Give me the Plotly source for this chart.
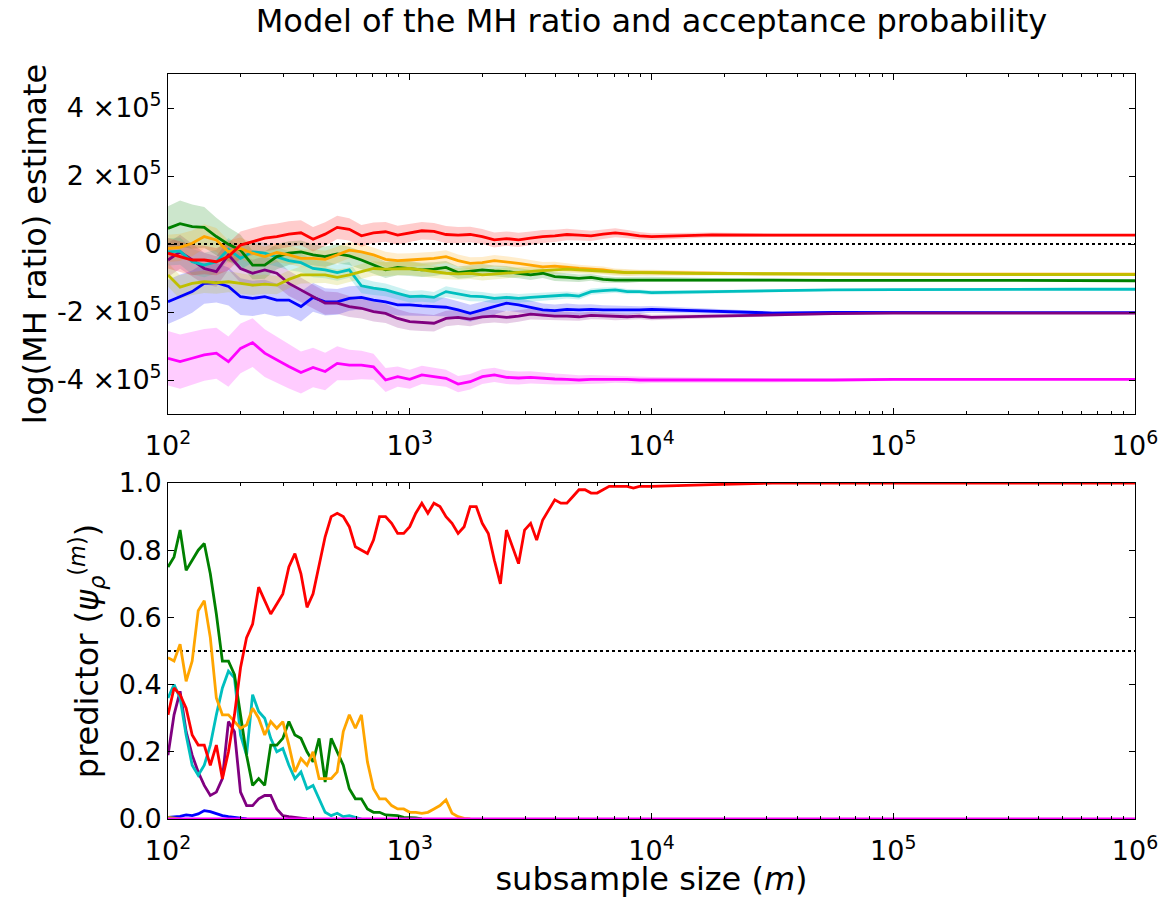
import plotly.graph_objects as go

# ---------------- data ----------------
# log10 of subsample size, top panel sample positions
LOG_M_TOP = [2.00, 2.05, 2.10, 2.15, 2.20, 2.25, 2.30, 2.35, 2.40, 2.45,
             2.50, 2.55, 2.60, 2.65, 2.70, 2.75, 2.80, 2.85, 2.90, 2.95,
             3.00, 3.05, 3.10, 3.15, 3.20, 3.25, 3.30, 3.35, 3.40, 3.45,
             3.50, 3.55, 3.60, 3.65, 3.70, 3.75, 3.80, 3.85, 3.90, 3.95,
             4.00, 4.25, 4.50, 4.75, 5.00, 5.25, 5.50, 5.75, 6.00]

# log(MH ratio) estimates, in units of 1e3
RED_T = [-27, -37, -47, -47, -52, -37, -3, 7, 17, 22, 29, 33, 14, 29, 49, 43, 24, 33, 36, 26, 33,
         39, 37, 28, 26, 28, 22, 12, 16, 12, 17, 22, 24, 28, 26, 24, 29, 33, 29, 24, 22,
         27, 26, 26, 26, 26, 26, 26, 26]
GREEN_T = [46, 60, 51, 49, 22, -1, -18, -62, -62, -37, -27, -23, -32, -37, -29, -35, -47, -62, -76, -69, -72,
           -76, -74, -69, -84, -81, -76, -79, -81, -86, -91, -86, -96, -98, -101, -98, -104, -106, -106, -104, -104,
           -105, -106, -107, -108, -107, -107, -108, -108]
ORANGE_T = [-13, -10, 2, 22, 12, -23, -13, -27, -37, -25, -32, -42, -42, -45, -32, -18, -23, -32, -45, -49, -47,
            -45, -42, -37, -49, -57, -55, -49, -52, -57, -62, -67, -65, -69, -72, -74, -76, -81, -84, -84, -84,
            -86, -88, -89, -89, -89, -89, -89, -89]
YELLOW_T = [-91, -127, -116, -111, -114, -111, -116, -121, -118, -121, -104, -91, -91, -91, -98, -91, -81, -72, -74, -72, -72,
            -76, -81, -86, -88, -86, -91, -88, -86, -84, -81, -78, -76, -74, -76, -78, -81, -84, -84, -84, -84,
            -87, -88, -89, -89, -90, -90, -90, -90]
CYAN_T = [-23, -21, -52, -62, -52, -16, -42, -23, -27, -37, -49, -55, -72, -76, -84, -76, -123, -130, -135, -145, -155,
          -153, -157, -140, -147, -153, -155, -160, -157, -160, -157, -155, -153, -150, -153, -140, -137, -135, -140, -140, -143,
          -140, -138, -135, -134, -133, -133, -133, -133]
BLUE_T = [-170, -155, -140, -116, -114, -125, -155, -160, -155, -165, -165, -184, -157, -170, -170, -160, -157, -165, -170, -179, -179,
          -182, -184, -186, -194, -204, -194, -184, -174, -179, -186, -194, -196, -192, -194, -192, -194, -194, -196, -194, -192,
          -198, -203, -201, -202, -202, -202, -202, -202]
PURPLE_T = [-47, -23, -47, -72, -81, -32, -72, -86, -76, -86, -116, -135, -155, -174, -174, -184, -189, -199, -204, -219, -228,
            -231, -233, -219, -216, -221, -214, -212, -216, -212, -206, -209, -212, -212, -214, -210, -212, -214, -214, -212, -216,
            -212, -208, -205, -203, -203, -203, -203, -203]
MAGENTA_T = [-336, -346, -336, -326, -321, -346, -307, -290, -321, -341, -360, -378, -363, -375, -351, -356, -356, -361, -400, -390, -398,
             -385, -390, -395, -412, -405, -390, -385, -392, -394, -392, -395, -397, -398, -400, -398, -398, -397, -398, -400, -400,
             -400, -402, -400, -398, -398, -398, -398, -398]

# half-widths of the shaded uncertainty bands, units of 1e3
RED_B = [45, 45, 45, 42, 40, 40, 40, 40, 39, 38, 38, 37, 36, 35, 34, 33, 32, 30, 29, 28, 27,
         26, 25, 25, 24, 23, 22, 22, 21, 21, 20, 19, 18, 17, 16, 15, 14, 13, 12, 11, 10,
         7, 5, 4, 3, 2, 2, 1, 1]
GREEN_B = [65, 68, 65, 60, 55, 50, 45, 42, 40, 37, 35, 33, 31, 30, 28, 27, 26, 25, 24, 23, 22,
           21, 20, 19, 18, 18, 17, 16, 16, 15, 15, 14, 13, 12, 11, 10, 10, 9, 9, 8, 8,
           5, 4, 3, 2, 2, 1, 1, 1]
ORANGE_B = [40, 40, 38, 36, 35, 33, 32, 30, 29, 28, 27, 26, 26, 25, 24, 24, 23, 22, 22, 21, 20,
            20, 19, 19, 18, 18, 17, 17, 16, 16, 15, 14, 13, 12, 11, 10, 10, 9, 9, 8, 8,
            5, 4, 3, 2, 2, 1, 1, 1]
YELLOW_B = [35, 35, 34, 33, 32, 31, 30, 29, 28, 27, 26, 25, 25, 24, 23, 22, 22, 21, 20, 20, 19,
            19, 18, 18, 17, 17, 16, 16, 15, 15, 14, 13, 12, 11, 10, 10, 9, 9, 8, 8, 7,
            5, 4, 3, 2, 2, 1, 1, 1]
CYAN_B = [40, 40, 38, 36, 35, 34, 33, 32, 30, 29, 28, 27, 26, 25, 24, 23, 22, 20, 19, 18, 17,
          17, 16, 16, 15, 15, 14, 14, 13, 13, 12, 12, 11, 10, 10, 9, 9, 8, 8, 7, 7,
          5, 4, 3, 2, 2, 1, 1, 1]
BLUE_B = [65, 65, 62, 60, 58, 56, 54, 52, 50, 48, 46, 44, 42, 40, 38, 36, 35, 33, 32, 31, 30,
          29, 28, 27, 26, 25, 24, 23, 22, 21, 20, 19, 18, 17, 16, 15, 14, 13, 12, 11, 10,
          7, 5, 4, 3, 2, 2, 1, 1]
PURPLE_B = [50, 50, 48, 46, 45, 44, 42, 40, 39, 38, 37, 36, 35, 34, 32, 31, 30, 29, 28, 27, 26,
            25, 24, 23, 22, 21, 20, 19, 18, 17, 16, 15, 14, 13, 12, 11, 10, 10, 9, 9, 8,
            6, 4, 3, 2, 2, 1, 1, 1]
MAGENTA_B = [80, 80, 78, 76, 75, 74, 73, 72, 70, 68, 65, 62, 58, 55, 50, 45, 42, 38, 35, 30, 28,
             27, 26, 25, 24, 23, 22, 21, 20, 19, 18, 17, 16, 15, 14, 13, 12, 11, 10, 10, 9,
             7, 5, 4, 3, 2, 2, 1, 1]

# bottom panel sample positions (log10 m)
LOG_M_BOT = [2.000, 2.025, 2.050, 2.075, 2.100, 2.125, 2.150, 2.175, 2.200, 2.225,
             2.250, 2.275, 2.300, 2.325, 2.350, 2.375, 2.400, 2.425, 2.450, 2.475,
             2.500, 2.525, 2.550, 2.575, 2.600, 2.625, 2.650, 2.675, 2.700, 2.725,
             2.750, 2.775, 2.800, 2.825, 2.850, 2.875, 2.900, 2.925, 2.950, 2.975,
             3.000, 3.025, 3.050, 3.075, 3.100, 3.125, 3.150, 3.175, 3.200, 3.225,
             3.250, 3.275, 3.300, 3.325, 3.350, 3.375, 3.400, 3.425, 3.450, 3.475,
             3.500, 3.525, 3.550, 3.575, 3.600, 3.625, 3.650, 3.675, 3.700, 3.725,
             3.750, 3.775, 3.800, 3.825, 3.850, 3.875, 3.900, 3.925, 3.950, 3.975,
             4.000, 4.250, 4.500, 4.750, 5.000, 5.250, 5.500, 5.750, 6.000]

# predictor values (each list starts at the first position, ends once at zero)
RED_P = [0.31, 0.39, 0.37, 0.33, 0.25, 0.22, 0.22, 0.16, 0.22, 0.12, 0.20, 0.31, 0.45, 0.54, 0.58, 0.69, 0.65,
         0.61, 0.64, 0.67, 0.75, 0.79, 0.73, 0.63, 0.67, 0.76, 0.84, 0.90, 0.91, 0.90, 0.87, 0.81, 0.80, 0.79,
         0.83, 0.90, 0.90, 0.88, 0.85, 0.85, 0.87,
         0.91, 0.94, 0.91, 0.94, 0.93, 0.90, 0.88, 0.85, 0.87, 0.93, 0.93, 0.88, 0.85, 0.77, 0.70, 0.86, 0.81,
         0.76, 0.86, 0.88, 0.83, 0.89, 0.92, 0.95, 0.94, 0.94, 0.96, 0.98, 0.98, 0.97, 0.97, 0.98, 0.99, 0.99,
         0.99, 0.99, 0.985, 0.99, 0.99, 0.99,
         0.995, 1.0, 1.0, 1.0, 1.0, 1.0, 1.0, 1.0]
GREEN_P = [0.75, 0.78, 0.86, 0.74, 0.77, 0.80, 0.82, 0.73, 0.61, 0.47, 0.47, 0.43, 0.31, 0.19, 0.10, 0.12, 0.10,
           0.22, 0.22, 0.24, 0.29, 0.25, 0.24, 0.20, 0.17, 0.24, 0.11, 0.24, 0.20, 0.16, 0.09, 0.06, 0.06, 0.03,
           0.02, 0.02, 0.012, 0.01, 0.01, 0.005, 0.005, 0.003, 0.0]
ORANGE_P = [0.48, 0.47, 0.52, 0.41, 0.47, 0.62, 0.65, 0.54, 0.36, 0.31, 0.31, 0.29, 0.27, 0.28, 0.33, 0.30, 0.25,
            0.29, 0.27, 0.29, 0.22, 0.14, 0.18, 0.16, 0.20, 0.12, 0.12, 0.12, 0.14, 0.26, 0.31, 0.27, 0.31, 0.17,
            0.09, 0.06, 0.06, 0.04, 0.03, 0.03, 0.02,
            0.02, 0.017, 0.02, 0.03, 0.04, 0.057, 0.017, 0.007, 0.002, 0.0]
CYAN_P = [0.36, 0.40, 0.36, 0.25, 0.16, 0.13, 0.16, 0.22, 0.31, 0.39, 0.44, 0.42, 0.25, 0.19, 0.37, 0.32, 0.30,
          0.24, 0.20, 0.21, 0.16, 0.12, 0.14, 0.09, 0.10, 0.06, 0.02, 0.01, 0.017, 0.007, 0.01, 0.005, 0.0]
PURPLE_P = [0.19, 0.31, 0.38, 0.26, 0.19, 0.14, 0.10, 0.07, 0.08, 0.12, 0.29, 0.26, 0.08, 0.04, 0.04, 0.06, 0.07,
            0.07, 0.03, 0.01, 0.007, 0.005, 0.002, 0.0]
BLUE_P = [0.005, 0.006, 0.008, 0.012, 0.010, 0.015, 0.025, 0.022, 0.015, 0.010, 0.007, 0.004, 0.002, 0.0]
YELLOW_P = [0.005, 0.002, 0.0]
MAGENTA_P = [0.0] * len(LOG_M_BOT)

COLORS = {
    "red": (255, 0, 0), "green": (0, 128, 0), "orange": (255, 165, 0),
    "yellow": (191, 191, 0), "cyan": (0, 191, 191), "blue": (0, 0, 255),
    "purple": (128, 0, 128), "magenta": (255, 0, 255),
}

TOP_SERIES = [("blue", BLUE_T, BLUE_B), ("purple", PURPLE_T, PURPLE_B),
              ("cyan", CYAN_T, CYAN_B), ("green", GREEN_T, GREEN_B),
              ("orange", ORANGE_T, ORANGE_B), ("yellow", YELLOW_T, YELLOW_B),
              ("red", RED_T, RED_B), ("magenta", MAGENTA_T, MAGENTA_B)]
BOT_SERIES = [("blue", BLUE_P), ("purple", PURPLE_P), ("cyan", CYAN_P),
              ("green", GREEN_P), ("orange", ORANGE_P), ("yellow", YELLOW_P),
              ("red", RED_P), ("magenta", MAGENTA_P)]

X_TICKS = [1e2, 1e3, 1e4, 1e5, 1e6]
X_TICKTEXT = ["10<sup>2</sup>", "10<sup>3</sup>", "10<sup>4</sup>", "10<sup>5</sup>", "10<sup>6</sup>"]
Y1_TICKS = [-4e5, -2e5, 0, 2e5, 4e5]
Y1_TICKTEXT = ["-4 ×10<sup>5</sup>", "-2 ×10<sup>5</sup>", "0", "2 ×10<sup>5</sup>", "4 ×10<sup>5</sup>"]
Y2_TICKS = [0.0, 0.2, 0.4, 0.6, 0.8, 1.0]
Y2_TICKTEXT = ["0.0", "0.2", "0.4", "0.6", "0.8", "1.0"]

# ---------------- figure ----------------
def rgba(c, a):
    return "rgba(%d,%d,%d,%s)" % (c[0], c[1], c[2], a)

x_top = [10 ** v for v in LOG_M_TOP]
x_bot = [10 ** v for v in LOG_M_BOT]

fig = go.Figure()

# shaded bands
for name, vals, band in TOP_SERIES:
    up = [(v + b) * 1e3 for v, b in zip(vals, band)]
    lo = [(v - b) * 1e3 for v, b in zip(vals, band)]
    fig.add_trace(go.Scatter(x=x_top + x_top[::-1], y=up + lo[::-1], fill="toself",
                             fillcolor=rgba(COLORS[name], 0.2), line=dict(width=0),
                             mode="lines", hoverinfo="skip", showlegend=False,
                             xaxis="x", yaxis="y"))

# reference lines
fig.add_trace(go.Scatter(x=[1e2, 1e6], y=[0, 0], mode="lines",
                         line=dict(color="black", width=2, dash="dot"),
                         showlegend=False, xaxis="x", yaxis="y"))
fig.add_trace(go.Scatter(x=[1e2, 1e6], y=[0.5, 0.5], mode="lines",
                         line=dict(color="black", width=2, dash="dot"),
                         showlegend=False, xaxis="x2", yaxis="y2"))

for name, vals, band in TOP_SERIES:
    fig.add_trace(go.Scatter(x=x_top, y=[v * 1e3 for v in vals], mode="lines",
                             line=dict(color=rgba(COLORS[name], 1), width=2.8),
                             showlegend=False, xaxis="x", yaxis="y"))

for name, vals in BOT_SERIES:
    fig.add_trace(go.Scatter(x=x_bot[:len(vals)], y=vals, mode="lines",
                             line=dict(color=rgba(COLORS[name], 1), width=2.8),
                             showlegend=False, xaxis="x2", yaxis="y2"))

minor_vals = [k * 10 ** e for e in range(2, 6) for k in range(2, 10)]

FONT = "DejaVu Sans, Liberation Sans, sans-serif"
TICKFONT = dict(family=FONT, size=27, color="black")
TITLEFONT = dict(family=FONT, size=32, color="black")

common_x = dict(type="log", range=[2, 6], tickmode="array", tickvals=X_TICKS,
                ticktext=X_TICKTEXT, ticks="inside", ticklen=6, tickwidth=1,
                tickcolor="black", mirror="allticks", showline=True,
                linecolor="black", linewidth=1, showgrid=False, zeroline=False,
                tickfont=TICKFONT, ticklabeloverflow="allow", ticklabelstandoff=8,
                automargin=False,
                minor=dict(tickvals=minor_vals, ticks="inside", ticklen=3,
                           tickwidth=1, tickcolor="black", showgrid=False))
common_y = dict(ticks="inside", ticklen=6, tickwidth=1, tickcolor="black",
                mirror="allticks", showline=True, linecolor="black", linewidth=1,
                showgrid=False, zeroline=False, tickfont=TICKFONT, tickmode="array",
                ticklabeloverflow="allow", automargin=False)

fig.update_layout(
    width=1158, height=898,
    margin=dict(l=168, r=23, t=74, b=79, autoexpand=False),
    paper_bgcolor="white", plot_bgcolor="white",
    font=dict(family=FONT, color="black"),
    title=dict(text="Model of the MH ratio and acceptance probability",
               font=TITLEFONT, x=0.5, xref="paper", xanchor="center",
               y=1 - 21 / 898, yref="container", yanchor="middle"),
    xaxis=dict(domain=[0, 1], anchor="y", **common_x),
    yaxis=dict(domain=[0.5436, 1.0], anchor="x", range=[-5e5, 5e5],
               tickvals=Y1_TICKS, ticktext=Y1_TICKTEXT,
               title=dict(text="log(MH ratio) estimate", font=TITLEFONT, standoff=0),
               **common_y),
    xaxis2=dict(domain=[0, 1], anchor="y2",
                title=dict(text="subsample size (<i>m</i>)", font=TITLEFONT, standoff=0),
                **common_x),
    yaxis2=dict(domain=[0, 0.451], anchor="x2", range=[0, 1],
                tickvals=Y2_TICKS, ticktext=Y2_TICKTEXT,
                title=dict(text="predictor (<i>ψ</i><sub><i>ρ</i></sub><sup>(<i>m</i>)</sup>)",
                           font=TITLEFONT, standoff=10),
                **common_y),
)

fig.write_html("out.html")
